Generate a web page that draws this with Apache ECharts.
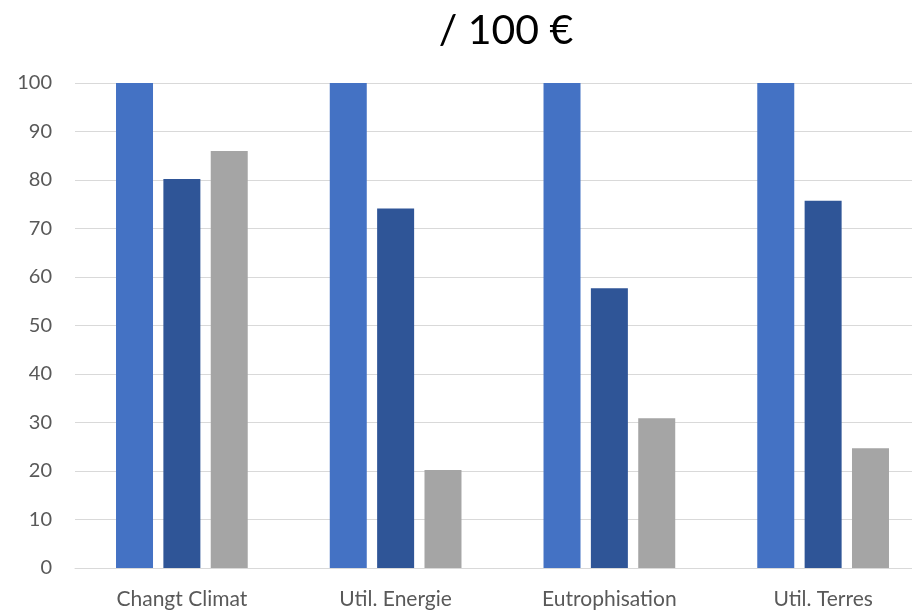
<!DOCTYPE html>
<html><head><meta charset="utf-8">
<script src="https://cdn.jsdelivr.net/npm/echarts@6/dist/echarts.min.js"></script>
<style>html,body{margin:0;padding:0;background:#fff}#c{width:912px;height:612px}</style>
</head><body><div id="c"></div>
<script>
const categories = ['Changt Climat', 'Util. Energie', 'Eutrophisation', 'Util. Terres'];
const series1 = [100, 100, 100, 100];
const series2 = [80.2, 74.1, 57.7, 75.7];
const series3 = [86.0, 20.2, 30.9, 24.7];
const yTicks = [0, 10, 20, 30, 40, 50, 60, 70, 80, 90, 100];
const titleText = '/ 100 €';

const chart = echarts.init(document.getElementById('c'));
const font = 'Lato, "Open Sans", sans-serif';
chart.setOption({
  animation: false,
  title: { text: titleText, left: 501, top: 5, textAlign: 'center', textStyle: { fontFamily: font, fontSize: 41, fontWeight: 'normal', color: '#000' } },
  grid: { left: 75, width: 855, top: 83, height: 485, outerBoundsMode: 'none', containLabel: false },
  xAxis: {
    type: 'category', data: categories,
    axisLine: { show: true, lineStyle: { color: '#d9d9d9', width: 1 } },
    axisTick: { show: false },
    axisLabel: { color: '#595959', fontSize: 21, fontFamily: font, margin: 21 }
  },
  yAxis: {
    type: 'value', min: yTicks[0], max: yTicks[yTicks.length - 1], interval: 10,
    axisLine: { show: false }, axisTick: { show: false },
    splitLine: { lineStyle: { color: '#d9d9d9', width: 1 } },
    axisLabel: { color: '#595959', fontSize: 20, fontFamily: font, margin: 23 }
  },
  series: [
    { type: 'bar', data: series1, barWidth: 37, barGap: '28%', itemStyle: { color: '#4472C4' } },
    { type: 'bar', data: series2, barWidth: 37, barGap: '28%', itemStyle: { color: '#2F5597' } },
    { type: 'bar', data: series3, barWidth: 37, barGap: '28%', itemStyle: { color: '#A5A5A5' } }
  ]
});
</script></body></html>
